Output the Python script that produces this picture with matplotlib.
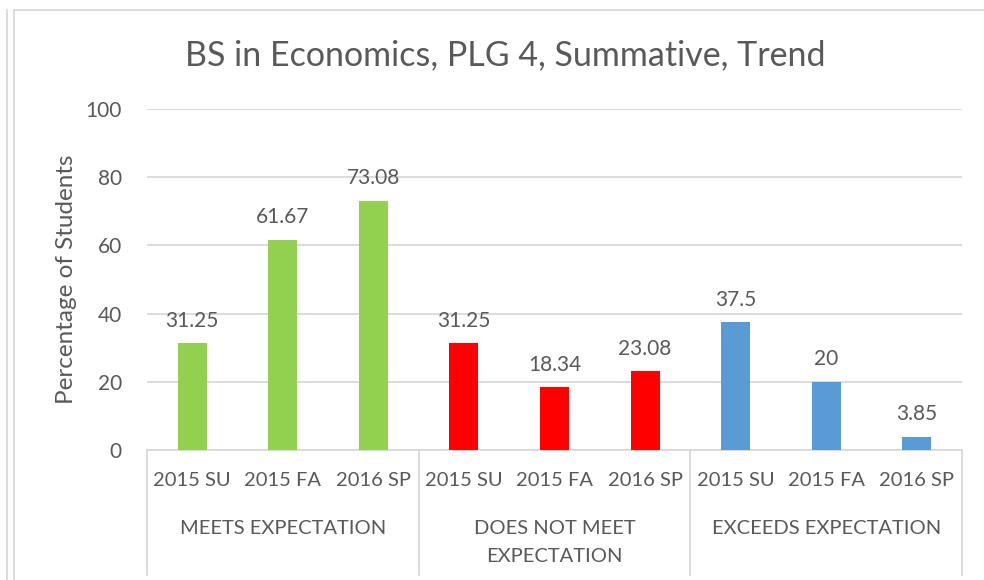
import numpy as np
import matplotlib
matplotlib.use('Agg')
import matplotlib.pyplot as plt
from matplotlib.lines import Line2D
import matplotlib.transforms as mtransforms

# data
groups = ['MEETS EXPECTATION', 'DOES NOT MEET\nEXPECTATION', 'EXCEEDS EXPECTATION']
terms = ['2015 SU', '2015 FA', '2016 SP']
meets = [31.25, 61.67, 73.08]
not_meet = [31.25, 18.34, 23.08]
exceeds = [37.5, 20, 3.85]
group_colors = ['#92D050', '#FF0000', '#5B9BD5']
yticks = [0, 20, 40, 60, 80, 100]

txt = '#595959'
grid_c = '#D9D9D9'
plt.rcParams['font.family'] = ['Lato', 'DejaVu Sans']

fig = plt.figure(figsize=(9.84, 5.8), dpi=100)
W, H = 984, 580
ax = fig.add_axes([147 / W, 1 - 450 / H, (962 - 147) / W, (450 - 109) / H])

series = [meets, not_meet, exceeds]
x = np.arange(len(terms) * len(groups))
for g, (vals, col) in enumerate(zip(series, group_colors)):
    xs = x[g * 3:(g + 1) * 3]
    bars = ax.bar(xs, vals, width=0.32, color=col, zorder=3)
    for b, v in zip(bars, vals):
        ax.annotate(f'{v:g}', (b.get_x() + b.get_width() / 2, v),
                    xytext=(0, 9), textcoords='offset points',
                    ha='center', va='bottom', fontsize=15, color=txt)

ax.set_xlim(-0.5, len(x) - 0.5)
ax.set_ylim(0, 100)
ax.set_yticks(yticks)
ax.yaxis.grid(True, color=grid_c, linewidth=1.3, zorder=0)
ax.tick_params(axis='y', length=0, pad=18, labelsize=15, labelcolor=txt)
ax.tick_params(axis='x', length=0)
ax.set_xticks([])
for s in ['top', 'right', 'left']:
    ax.spines[s].set_visible(False)
ax.spines['bottom'].set_color(grid_c)
ax.spines['bottom'].set_linewidth(1.3)

ax.set_ylabel('Percentage of Students', fontsize=17.5, color=txt, labelpad=6)

# category labels and group boxes under the axis
trans = mtransforms.blended_transform_factory(ax.transData, ax.transAxes)
px = 1 / (450 - 109)
for i, t in enumerate(terms * len(groups)):
    ax.text(x[i], -30 * px, t, transform=trans, ha='center', va='center',
            fontsize=14.5, color=txt)
for g, name in enumerate(groups):
    ax.text(x[g * 3 + 1], -70 * px, name, transform=trans, ha='center', va='top',
            fontsize=14.5, color=txt, linespacing=1.75)
for b in np.arange(len(groups) + 1) * 3 - 0.5:
    ax.add_line(Line2D([b, b], [0, -125 * px], transform=trans, color=grid_c,
                       linewidth=1.3, clip_on=False))

fig.text(0.5 + 13 / W, 1 - 55 / H, 'BS in Economics, PLG 4, Summative, Trend',
         ha='center', va='center', fontsize=24.5, color=txt)

# outer chart frame
for xx in [7, 14]:
    fig.add_artist(Line2D([xx / W, xx / W], [0, 1 - 10 / H], color=grid_c, linewidth=1.3))
fig.add_artist(Line2D([14 / W, 1], [1 - 10 / H, 1 - 10 / H], color=grid_c, linewidth=1.3))

fig.savefig('out.png', dpi=100, facecolor='white')
